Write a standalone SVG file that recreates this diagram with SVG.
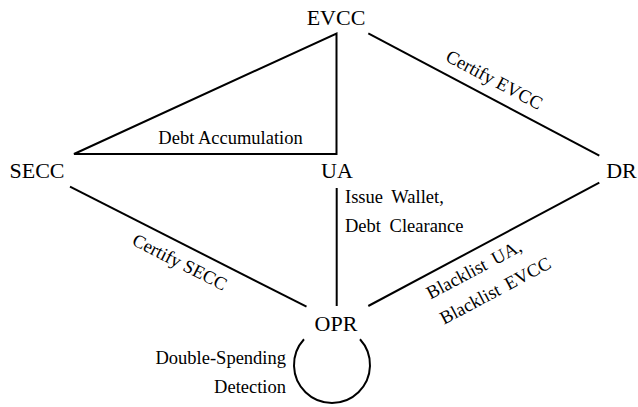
<svg xmlns="http://www.w3.org/2000/svg" width="638" height="407" viewBox="0 0 638 407">
<style>
.node{font-family:"Liberation Serif","Times New Roman",serif;font-size:22px;fill:#000;text-anchor:middle}
.lbl{font-family:"Liberation Serif","Times New Roman",serif;font-size:18.5px;fill:#000}
.edge{fill:none;stroke:#000;stroke-width:2;stroke-linejoin:miter}
</style>
<rect width="638" height="407" fill="#fff"/>
<g id="connectors">
<path class="edge" d="M74,154 L336.5,33.5 L336.5,154 Z"/>
<line class="edge" x1="368.3" y1="33.3" x2="599.3" y2="155.7"/>
<line class="edge" x1="599.3" y1="182.7" x2="368.3" y2="306"/>
<line class="edge" x1="70" y1="186.7" x2="306.5" y2="306.7"/>
<line class="edge" x1="336.7" y1="188" x2="336.7" y2="306"/>
<path class="edge" d="M304,339.3 A38,38 0 1 0 360,339.3"/>
<text class="lbl" x="230.5" y="144" text-anchor="middle">Debt Accumulation</text>
<text class="lbl" transform="translate(368.3,33.3) rotate(28)" x="133" y="-12" text-anchor="middle">Certify EVCC</text>
<text class="lbl" transform="translate(70,186.7) rotate(26.9)" x="132" y="23.8" text-anchor="middle">Certify SECC</text>
<g transform="translate(368.3,306) rotate(-28)">
<text class="lbl" x="58" y="23.6" word-spacing="3">Blacklist UA,</text>
<text class="lbl" x="58" y="52.2" word-spacing="3">Blacklist EVCC</text>
</g>
<text class="lbl" x="345" y="203" word-spacing="4">Issue Wallet,</text>
<text class="lbl" x="345" y="231.5" word-spacing="4">Debt Clearance</text>
<text class="lbl" x="286" y="364" text-anchor="end">Double-Spending</text>
<text class="lbl" x="286" y="393" text-anchor="end">Detection</text>
</g>
<g id="EVCC"><text class="node" x="336" y="25">EVCC</text></g>
<g id="SECC"><text class="node" x="37" y="178">SECC</text></g>
<g id="UA"><text class="node" x="337" y="178">UA</text></g>
<g id="DR"><text class="node" x="621.5" y="178">DR</text></g>
<g id="OPR"><text class="node" x="336" y="331">OPR</text></g>
</svg>
